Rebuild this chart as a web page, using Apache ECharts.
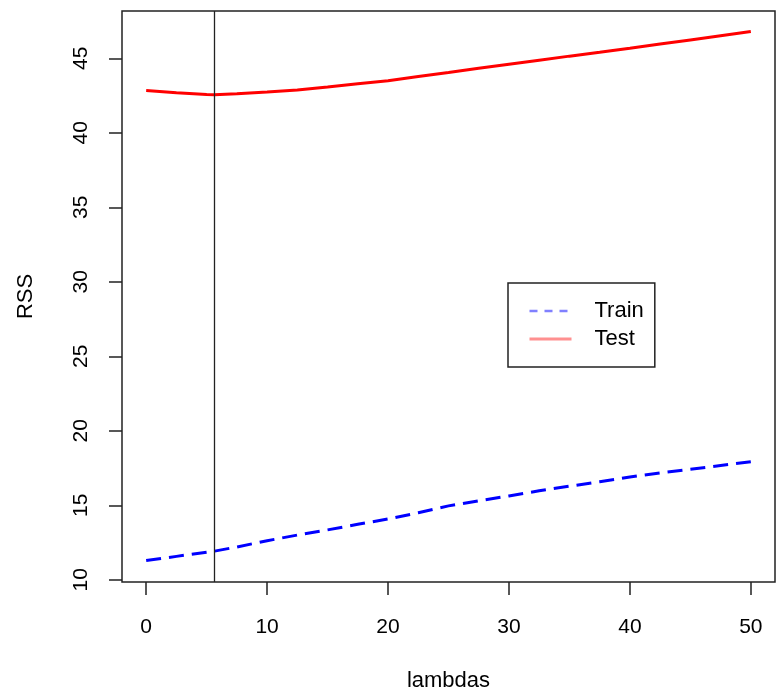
<!DOCTYPE html>
<html>
<head>
<meta charset="utf-8">
<script src="https://cdn.jsdelivr.net/npm/echarts@6/dist/echarts.min.js"></script>
<style>
html,body{margin:0;padding:0;background:#fff;}
#c{width:777px;height:697px;}
</style>
</head>
<body>
<div id="c"></div>
<script>
var lambdas = [0, 2.5, 5, 5.63, 7.5, 10, 12.5, 15, 17.5, 20, 22.5, 25, 27.5, 30, 32.5, 35, 37.5, 40, 42.5, 45, 47.5, 50];
var trainRSS = [11.29, 11.57, 11.85, 11.92, 12.2, 12.62, 13.0, 13.35, 13.72, 14.08, 14.5, 14.96, 15.3, 15.63, 15.97, 16.28, 16.58, 16.9, 17.17, 17.42, 17.67, 17.92];
var testRSS = [42.84, 42.7, 42.58, 42.56, 42.62, 42.74, 42.88, 43.08, 43.3, 43.5, 43.78, 44.05, 44.33, 44.61, 44.88, 45.15, 45.41, 45.68, 45.96, 46.24, 46.52, 46.8];
var bestLambda = 5.63;
var xTicks = [0, 10, 20, 30, 40, 50];
var yTicks = [10, 15, 20, 25, 30, 35, 40, 45];

function pairs(xs, ys){ return xs.map(function(x,i){ return [x, ys[i]]; }); }

var font = '"Liberation Sans", Arial, Helvetica, sans-serif';
var chart = echarts.init(document.getElementById('c'), null, {renderer:'canvas'});
chart.setOption({
  animation: false,
  backgroundColor: '#fff',
  grid: {left: 122, top: 11, width: 653, height: 572, show: true, borderColor: '#222', borderWidth: 1.5, backgroundColor: 'transparent'},
  xAxis: {
    type: 'value', min: -2, max: 52,
    name: 'lambdas', nameLocation: 'middle', nameGap: 88,
    nameTextStyle: {fontSize: 22, color: '#000', fontFamily: font},
    axisLine: {show: false, onZero: false},
    splitLine: {show: false},
    axisTick: {show: true, inside: false, length: 13, customValues: xTicks, lineStyle: {color: '#222', width: 1.5}},
    axisLabel: {customValues: xTicks, margin: 35, fontSize: 21, color: '#000', fontFamily: font}
  },
  yAxis: {
    type: 'value', min: 9.85, max: 48.18,
    name: 'RSS', nameLocation: 'middle', nameGap: 85, nameRotate: 90,
    nameTextStyle: {fontSize: 22, color: '#000', fontFamily: font},
    axisLine: {show: false, onZero: false},
    splitLine: {show: false},
    axisTick: {show: true, inside: false, length: 13, customValues: yTicks, lineStyle: {color: '#222', width: 1.5}},
    axisLabel: {customValues: yTicks, rotate: 90, margin: 30, fontSize: 21, color: '#000', fontFamily: font}
  },
  legend: {
    orient: 'vertical', left: 508, top: 283,
    borderColor: '#222', borderWidth: 1.5, borderRadius: 0,
    padding: [17, 11, 17, 20],
    itemWidth: 42, itemHeight: 14, itemGap: 6,
    textStyle: {fontSize: 22, color: '#000', fontFamily: font, padding: [0, 0, 0, 18]},
    data: [
      {name: 'Train', lineStyle: {color: '#8080ff', width: 2.5, type: [8, 7]}, itemStyle: {color: 'rgba(0,0,0,0)', borderWidth: 0, opacity: 0}},
      {name: 'Test', lineStyle: {color: '#ff9090', width: 3, type: 'solid'}, itemStyle: {color: 'rgba(0,0,0,0)', borderWidth: 0, opacity: 0}}
    ]
  },
  series: [
    {
      name: 'Train', type: 'line', data: pairs(lambdas, trainRSS),
      symbol: 'none', smooth: false,
      lineStyle: {color: '#0000ff', width: 3, type: [15, 8], cap: 'butt'},
      itemStyle: {color: '#0000ff'}
    },
    {
      name: 'Test', type: 'line', data: pairs(lambdas, testRSS),
      symbol: 'none', smooth: false,
      lineStyle: {color: '#ff0000', width: 3},
      itemStyle: {color: '#ff0000'},
      markLine: {
        silent: true, symbol: ['none', 'none'], label: {show: false},
        lineStyle: {color: '#222', width: 1.3, type: 'solid'},
        data: [{xAxis: bestLambda}]
      }
    }
  ]
});
</script>
</body>
</html>
